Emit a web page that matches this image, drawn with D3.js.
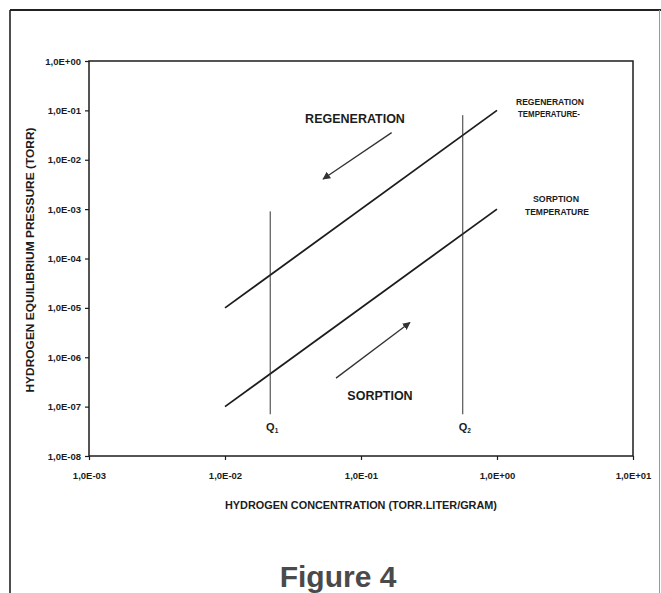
<!DOCTYPE html>
<html>
<head>
<meta charset="utf-8">
<script src="https://cdn.jsdelivr.net/npm/d3@7"></script>
<style>
  html, body { margin: 0; padding: 0; background: #fff; }
  svg { display: block; font-family: "Liberation Sans", Arial, sans-serif; }
</style>
</head>
<body>
<svg id="chart" width="661" height="593"></svg>
<script>
// Axis ticks (log decades) and their printed labels
const xTickValues = [1e-3, 1e-2, 1e-1, 1, 10];
const xTickLabels = ["1,0E-03", "1,0E-02", "1,0E-01", "1,0E+00", "1,0E+01"];
const yTickValues = [1, 1e-1, 1e-2, 1e-3, 1e-4, 1e-5, 1e-6, 1e-7, 1e-8];
const yTickLabels = ["1,0E+00", "1,0E-01", "1,0E-02", "1,0E-03", "1,0E-04",
                     "1,0E-05", "1,0E-06", "1,0E-07", "1,0E-08"];

// Isotherms: concentration vs equilibrium pressure
const concentration = [0.01, 1];
const regenerationPressure = [1e-5, 1e-1];
const sorptionPressure = [1e-7, 1e-3];

// Working-range markers Q1 / Q2
const qConcentration = [0.0215, 0.56];
const qTopPressure = [9e-4, 0.08];
const qBottomPressure = [7e-8, 7e-8];
const qSubscripts = ["1", "2"];

// Direction arrows [concentration, pressure]
const regenerationArrowFrom = [0.168, 0.0354];
const regenerationArrowTo = [0.0526, 0.00408];
const sorptionArrowFrom = [0.0655, 3.78e-7];
const sorptionArrowTo = [0.229, 5.04e-6];

const svg = d3.select("#chart");
const ink = "#1c1c1c";

const x = d3.scaleLog().domain([1e-3, 10]).range([89, 633]);
const y = d3.scaleLog().domain([1e-8, 1]).range([456, 61]);

// Outer page frame
svg.append("line").attr("x1", 10).attr("x2", 661).attr("y1", 10).attr("y2", 10)
  .attr("stroke", "#222").attr("stroke-width", 2);
svg.append("line").attr("x1", 10).attr("x2", 10).attr("y1", 10).attr("y2", 593)
  .attr("stroke", "#222").attr("stroke-width", 1.6);
svg.append("line").attr("x1", 659.5).attr("x2", 659.5).attr("y1", 10).attr("y2", 593)
  .attr("stroke", "#999").attr("stroke-width", 1);

// Plot frame
svg.append("rect")
  .attr("x", x(1e-3)).attr("y", y(1))
  .attr("width", x(10) - x(1e-3)).attr("height", y(1e-8) - y(1))
  .attr("fill", "none").attr("stroke", ink).attr("stroke-width", 1.5);

// Axes
const xAxis = d3.axisBottom(x).tickValues(xTickValues)
  .tickFormat((d, i) => xTickLabels[i]).tickSize(4).tickPadding(12);
const yAxis = d3.axisLeft(y).tickValues(yTickValues)
  .tickFormat((d, i) => yTickLabels[i]).tickSize(4).tickPadding(4);

const gx = svg.append("g").attr("transform", `translate(0,${y(1e-8)})`).call(xAxis);
const gy = svg.append("g").attr("transform", `translate(${x(1e-3)},0)`).call(yAxis);
[gx, gy].forEach(g => {
  g.select(".domain").remove();
  g.selectAll(".tick line").attr("stroke", ink).attr("stroke-width", 1.2);
  g.selectAll(".tick text")
    .attr("fill", ink).attr("font-size", 9.5).attr("font-weight", "bold")
    .attr("font-family", "'Liberation Sans', Arial, sans-serif");
});

// Axis titles
svg.append("text")
  .attr("x", x(0.1)).attr("y", 509)
  .attr("text-anchor", "middle").attr("fill", ink)
  .attr("font-size", 10).attr("font-weight", "bold")
  .attr("textLength", 272).attr("lengthAdjust", "spacingAndGlyphs")
  .text("HYDROGEN CONCENTRATION (TORR.LITER/GRAM)");

svg.append("text")
  .attr("transform", "translate(34,260) rotate(-90)")
  .attr("text-anchor", "middle").attr("fill", ink)
  .attr("font-size", 10).attr("font-weight", "bold")
  .attr("textLength", 265).attr("lengthAdjust", "spacingAndGlyphs")
  .text("HYDROGEN EQUILIBRIUM PRESSURE (TORR)");

// Isotherm lines
const line = d3.line().x(d => x(d[0])).y(d => y(d[1]));
[regenerationPressure, sorptionPressure].forEach(p => {
  svg.append("path")
    .attr("d", line(concentration.map((c, i) => [c, p[i]])))
    .attr("fill", "none").attr("stroke", ink).attr("stroke-width", 1.8);
});

// Q1 / Q2 vertical markers
qConcentration.forEach((q, i) => {
  svg.append("line")
    .attr("x1", x(q)).attr("x2", x(q))
    .attr("y1", y(qTopPressure[i])).attr("y2", y(qBottomPressure[i]))
    .attr("stroke", "#333").attr("stroke-width", 1);
  const t = svg.append("text")
    .attr("x", x(q) + 2).attr("y", y(qBottomPressure[i]) + 17)
    .attr("text-anchor", "middle").attr("fill", ink)
    .attr("font-size", 11).attr("font-weight", "bold");
  t.append("tspan").text("Q");
  t.append("tspan").attr("font-size", 6.5).attr("dy", 2).text(qSubscripts[i]);
});

// Arrows
const defs = svg.append("defs");
defs.append("marker")
  .attr("id", "head").attr("viewBox", "0 0 10 10")
  .attr("refX", 9).attr("refY", 5)
  .attr("markerWidth", 6).attr("markerHeight", 6)
  .attr("markerUnits", "strokeWidth")
  .attr("orient", "auto")
  .append("path").attr("d", "M0,0 L10,5 L0,10 Z").attr("fill", "#333");

[[regenerationArrowFrom, regenerationArrowTo], [sorptionArrowFrom, sorptionArrowTo]]
  .forEach(([a, b]) => {
    svg.append("line")
      .attr("x1", x(a[0])).attr("y1", y(a[1]))
      .attr("x2", x(b[0])).attr("y2", y(b[1]))
      .attr("stroke", "#333").attr("stroke-width", 1.3)
      .attr("marker-end", "url(#head)");
  });

// Region labels
svg.append("text")
  .attr("x", 355).attr("y", 123)
  .attr("text-anchor", "middle").attr("fill", ink)
  .attr("font-size", 12.5).attr("font-weight", "bold")
  .text("REGENERATION");
svg.append("text")
  .attr("x", 380).attr("y", 400)
  .attr("text-anchor", "middle").attr("fill", ink)
  .attr("font-size", 12.5).attr("font-weight", "bold")
  .text("SORPTION");

// Isotherm captions (narrow lettering)
const caption = (cx, cy, txt, w) =>
  svg.append("text")
    .attr("x", cx).attr("y", cy)
    .attr("text-anchor", "middle").attr("fill", ink)
    .attr("font-size", 9.5).attr("font-weight", "bold")
    .attr("textLength", w).attr("lengthAdjust", "spacingAndGlyphs")
    .text(txt);
caption(550, 105, "REGENERATION", 68);
caption(549, 117, "TEMPERATURE-", 62);
caption(556, 202, "SORPTION", 46);
caption(557, 215, "TEMPERATURE", 64);

// Figure caption
svg.append("text")
  .attr("x", 338).attr("y", 587)
  .attr("text-anchor", "middle").attr("fill", "#4a4a4a")
  .attr("font-size", 30).attr("font-weight", "bold")
  .text("Figure 4");
</script>
</body>
</html>
